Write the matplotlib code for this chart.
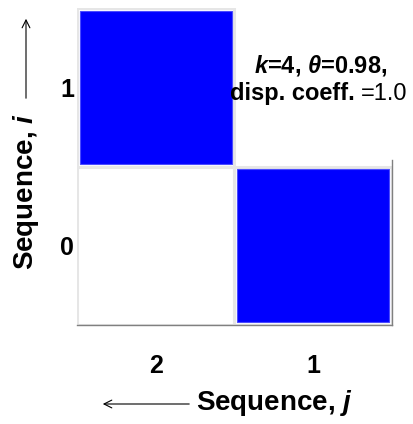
import numpy as np
import matplotlib
matplotlib.use("Agg")
import matplotlib.pyplot as plt
from matplotlib.patches import Rectangle

# ---- data ----
j_labels = ['2', '1']          # columns (left -> right)
i_labels = ['0', '1']          # rows (bottom -> top)
values = [[0, 1],              # row i=0
          [1, np.nan]]         # row i=1 (upper-right cell missing)
annot_line1 = r"$k$=4, $\theta$=0.98,"
annot_line2_bold = "disp. coeff. "
annot_line2_reg = "=1.0"

plt.rcParams['font.family'] = ['Liberation Sans', 'DejaVu Sans']
plt.rcParams['mathtext.fontset'] = 'custom'
plt.rcParams['mathtext.rm'] = 'Liberation Sans'
plt.rcParams['mathtext.it'] = 'Liberation Sans:italic:bold'
plt.rcParams['mathtext.bf'] = 'Liberation Sans:bold'

W, H = 414, 424
fig = plt.figure(figsize=(W / 100, H / 100), dpi=100)
ax = fig.add_axes([77 / W, 1 - 325 / H, (392 - 77) / W, (325 - 8) / H])

frame_col = '#e6e6e6'
blue = '#0000ff'
inset = 0.018
for r, row in enumerate(values):
    for c, v in enumerate(row):
        if v is None or (isinstance(v, float) and np.isnan(v)):
            continue
        ax.add_patch(Rectangle((c - 0.5, r - 0.5), 1, 1, facecolor='white',
                               edgecolor=frame_col, lw=2.2, zorder=1))
        if v >= 0.5:
            ax.add_patch(Rectangle((c - 0.5 + inset, r - 0.5 + inset),
                                   1 - 2 * inset, 1 - 2 * inset,
                                   facecolor=blue, edgecolor='#4a4aff',
                                   lw=0.8, zorder=2))

ax.set_xlim(-0.5, len(j_labels) - 0.5)
ax.set_ylim(-0.5, len(i_labels) - 0.5)
ax.set_xticks(range(len(j_labels)))
ax.set_xticklabels(j_labels, fontsize=18, fontweight='bold')
ax.set_yticks(range(len(i_labels)))
ax.set_yticklabels(i_labels, fontsize=18, fontweight='bold')
ax.tick_params(axis='x', length=0, pad=21)
ax.tick_params(axis='y', length=0, pad=2)

for s in ['left', 'top']:
    ax.spines[s].set_visible(False)
for s in ['bottom', 'right']:
    ax.spines[s].set_color('#808080')
    ax.spines[s].set_linewidth(1.0)
ax.spines['right'].set_bounds(-0.5, 0.54)
ax.spines['right'].set_zorder(5)
ax.spines['bottom'].set_zorder(5)

# annotation
fig.text(321 / W, 1 - 73 / H, annot_line1, fontsize=17, fontweight='bold',
         ha='center', va='baseline', zorder=6)
t2 = fig.text(361 / W, 1 - 100 / H, annot_line2_bold, fontsize=17,
              fontweight='bold', ha='right', va='baseline', zorder=6)
ax.annotate(annot_line2_reg, xy=(1, 0), xycoords=t2, fontsize=17,
            fontweight='normal', ha='left', va='bottom', zorder=6,
            annotation_clip=False)

# axis labels with arrows
fig.text(274 / W, 1 - 403 / H, r"Sequence, $j$", fontsize=20, fontweight='bold',
         ha='center', va='center')
fig.text(26 / W, 1 - 192 / H, r"Sequence, $i$", fontsize=20, fontweight='bold',
         ha='center', va='center', rotation=90)
ax.annotate('', xy=(100, H - 404), xytext=(192, H - 404),
            xycoords='figure pixels', textcoords='figure pixels',
            arrowprops=dict(arrowstyle='->', lw=0.8, color='black',
                            mutation_scale=14), annotation_clip=False)
ax.annotate('', xy=(26, H - 16), xytext=(26, H - 101),
            xycoords='figure pixels', textcoords='figure pixels',
            arrowprops=dict(arrowstyle='->', lw=0.8, color='black',
                            mutation_scale=14), annotation_clip=False)

fig.savefig('out.png', dpi=100)
